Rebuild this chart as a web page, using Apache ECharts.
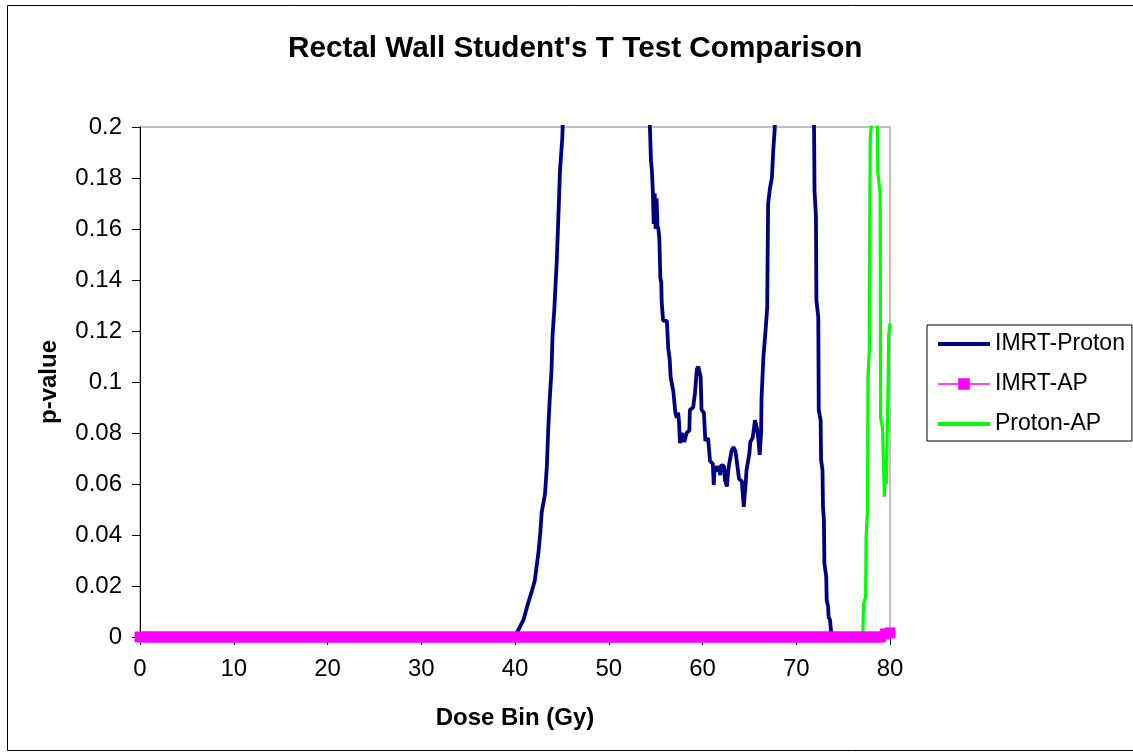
<!DOCTYPE html>
<html>
<head>
<meta charset="utf-8">
<title>Rectal Wall Student's T Test Comparison</title>
<script src="https://cdn.jsdelivr.net/npm/echarts@6/dist/echarts.min.js"></script>
<style>
  html, body { margin: 0; padding: 0; background: #ffffff; }
  #chart { width: 1133px; height: 755px; }
</style>
</head>
<body>
<div id="chart"></div>
<script>
// p-values of the per-dose-bin Student's t tests (rectal wall DVH)
// null marks stretches where the p-value lies far above the plotted range

const seriesNames = ['IMRT-Proton', 'IMRT-AP', 'Proton-AP'];

const imrtProtonDose = [
  0, 40.0, 40.35, 40.9, 41.4, 41.8, 42.1, 42.5, 42.7, 42.85, 43.2, 43.4, 43.55, 43.7, 43.9,
  44.0, 44.2, 44.45, 44.6, 44.8, 45.05, 45.2, 49.7,
  54.2, 54.4, 54.5, 54.6, 54.7, 54.8, 54.9, 55.0, 55.1, 55.2, 55.3, 55.4, 55.5, 55.6, 55.65,
  55.8, 56.2, 56.35, 56.5, 56.6, 56.9, 57.1, 57.25, 57.4, 57.5, 57.6, 57.8, 58.05, 58.3,
  58.6, 58.65, 59.0, 59.2, 59.4, 59.55, 59.8, 59.9, 60.15, 60.3, 60.6, 60.8, 61.1, 61.2,
  61.3, 61.5, 61.7, 61.9, 62.0, 62.3, 62.4, 62.6, 62.75, 62.9, 63.1, 63.3, 63.5, 63.6,
  63.9, 64.2, 64.3, 64.4, 64.6, 64.7, 65.0, 65.1, 65.35, 65.6, 65.8, 65.95, 66.1, 66.25,
  66.3, 66.5, 66.7, 66.9, 66.95, 67.0, 67.2, 67.4, 67.55, 67.7, 67.8, 69.8,
  71.85, 71.9, 71.95, 72.1, 72.15, 72.35, 72.4, 72.6, 72.65, 72.8, 72.85, 72.95, 73.0,
  73.2, 73.25, 73.4, 73.45, 73.6, 73.7, 73.8, 80
];
const imrtProtonP = [
  0, 0, 0.0027, 0.0067, 0.0133, 0.018, 0.022, 0.033, 0.041, 0.049, 0.056, 0.067, 0.082, 0.093, 0.105,
  0.118, 0.129, 0.147, 0.162, 0.183, 0.196, 0.215, null,
  0.215, 0.199, 0.187, 0.183, 0.175, 0.162, 0.174, 0.160, 0.172, 0.161, 0.160, 0.156, 0.141, 0.139, 0.131,
  0.124, 0.124, 0.113, 0.109, 0.102, 0.096, 0.088, 0.086, 0.088, 0.084, 0.076, 0.080, 0.0765, 0.080,
  0.081, 0.089, 0.090, 0.0957, 0.105, 0.106, 0.102, 0.089, 0.088, 0.077, 0.078, 0.069, 0.068, 0.0596,
  0.067, 0.065, 0.067, 0.0635, 0.0675, 0.067, 0.0616, 0.059, 0.0655, 0.069, 0.073, 0.0745, 0.073, 0.0706,
  0.062, 0.061, 0.056, 0.051, 0.060, 0.0655, 0.072, 0.0765, 0.078, 0.085, 0.082, 0.078, 0.0714, 0.080,
  0.094, 0.110, 0.119, 0.129, 0.150, 0.170, 0.176, 0.180, 0.191, 0.199, 0.215, null,
  0.215, 0.199, 0.175, 0.165, 0.132, 0.1255, 0.089, 0.085, 0.0694, 0.0655, 0.051, 0.046, 0.029,
  0.0235, 0.0145, 0.0118, 0.0078, 0.0067, 0.0027, 0, 0
];

const imrtApDose = [
  0, 0.5, 1, 1.5, 2, 2.5, 3, 3.5, 4, 4.5, 5, 5.5, 6, 6.5, 7, 7.5, 8, 8.5, 9, 9.5,
  10, 10.5, 11, 11.5, 12, 12.5, 13, 13.5, 14, 14.5, 15, 15.5, 16, 16.5, 17, 17.5, 18, 18.5, 19, 19.5,
  20, 20.5, 21, 21.5, 22, 22.5, 23, 23.5, 24, 24.5, 25, 25.5, 26, 26.5, 27, 27.5, 28, 28.5, 29, 29.5,
  30, 30.5, 31, 31.5, 32, 32.5, 33, 33.5, 34, 34.5, 35, 35.5, 36, 36.5, 37, 37.5, 38, 38.5, 39, 39.5,
  40, 40.5, 41, 41.5, 42, 42.5, 43, 43.5, 44, 44.5, 45, 45.5, 46, 46.5, 47, 47.5, 48, 48.5, 49, 49.5,
  50, 50.5, 51, 51.5, 52, 52.5, 53, 53.5, 54, 54.5, 55, 55.5, 56, 56.5, 57, 57.5, 58, 58.5, 59, 59.5,
  60, 60.5, 61, 61.5, 62, 62.5, 63, 63.5, 64, 64.5, 65, 65.5, 66, 66.5, 67, 67.5, 68, 68.5, 69, 69.5,
  70, 70.5, 71, 71.5, 72, 72.5, 73, 73.5, 74, 74.5, 75, 75.5, 76, 76.5, 77, 77.5, 78, 78.5, 79, 79.5,
  80
];
const imrtApP = [
  0, 0, 0, 0, 0, 0, 0, 0, 0, 0, 0, 0, 0, 0, 0, 0, 0, 0, 0, 0,
  0, 0, 0, 0, 0, 0, 0, 0, 0, 0, 0, 0, 0, 0, 0, 0, 0, 0, 0, 0,
  0, 0, 0, 0, 0, 0, 0, 0, 0, 0, 0, 0, 0, 0, 0, 0, 0, 0, 0, 0,
  0, 0, 0, 0, 0, 0, 0, 0, 0, 0, 0, 0, 0, 0, 0, 0, 0, 0, 0, 0,
  0, 0, 0, 0, 0, 0, 0, 0, 0, 0, 0, 0, 0, 0, 0, 0, 0, 0, 0, 0,
  0, 0, 0, 0, 0, 0, 0, 0, 0, 0, 0, 0, 0, 0, 0, 0, 0, 0, 0, 0,
  0, 0, 0, 0, 0, 0, 0, 0, 0, 0, 0, 0, 0, 0, 0, 0, 0, 0, 0, 0,
  0, 0, 0, 0, 0, 0, 0, 0, 0, 0, 0, 0, 0, 0, 0, 0, 0, 0, 0, 0.0012,
  0.0016
];

const protonApDose = [
  0, 77.1, 77.15, 77.2, 77.4, 77.45, 77.6, 77.65, 77.8, 77.85, 77.9, 78.0, 78.1, 78.35,
  78.6, 78.7, 78.95, 79.0, 79.2, 79.3, 79.4, 79.5, 79.6, 79.7, 79.8, 79.85, 80.0
];
const protonApP = [
  0, 0, 0.0094, 0.0133, 0.0157, 0.039, 0.050, 0.102, 0.113, 0.1725, 0.196, 0.2, 0.215, null,
  0.215, 0.182, 0.174, 0.086, 0.082, 0.069, 0.055, 0.065, 0.060, 0.081, 0.098, 0.118, 0.123
];

const xTicks = [0, 10, 20, 30, 40, 50, 60, 70, 80];
const yTicks = [0, 0.02, 0.04, 0.06, 0.08, 0.1, 0.12, 0.14, 0.16, 0.18, 0.2];

function pairs(dose, p) {
  return dose.map((d, i) => [d, p[i] === null ? '-' : p[i]]);
}

const FONT = '"Liberation Sans", Arial, sans-serif';

const chart = echarts.init(document.getElementById('chart'), null, { renderer: 'canvas' });

chart.setOption({
  backgroundColor: '#ffffff',
  animation: false,
  title: {
    text: "Rectal Wall Student's T Test Comparison",
    left: 283,
    top: 29,
    textStyle: { fontFamily: FONT, fontSize: 29.7, fontWeight: 'bold', color: '#000000' }
  },
  graphic: [{
    type: 'rect',
    shape: { x: 7.5, y: 5.5, width: 1140, height: 745 },
    style: { fill: 'none', stroke: '#000000', lineWidth: 1 },
    silent: true,
    z: -1
  }],
  legend: {
    orient: 'vertical',
    left: 927,
    top: 325,
    padding: [7, 7, 5, 9],
    itemWidth: 52,
    itemHeight: 12,
    itemGap: 16,
    borderColor: '#000000',
    borderWidth: 1,
    backgroundColor: '#ffffff',
    // plain line swatches for the two line-only series
    data: [
      { name: seriesNames[0], itemStyle: { opacity: 0 }, lineStyle: { width: 4 } },
      { name: seriesNames[1], lineStyle: { width: 1.5 } },
      { name: seriesNames[2], itemStyle: { opacity: 0 }, lineStyle: { width: 4 } }
    ],
    textStyle: { fontFamily: FONT, fontSize: 23, color: '#000000', lineHeight: 24 }
  },
  grid: {
    left: 140,
    top: 127,
    right: 243,
    bottom: 118,
    show: true,
    borderColor: '#808080',
    borderWidth: 1,
    backgroundColor: '#ffffff'
  },
  xAxis: {
    type: 'value',
    min: xTicks[0],
    max: xTicks[xTicks.length - 1],
    interval: 10,
    name: 'Dose Bin (Gy)',
    nameLocation: 'middle',
    nameGap: 69,
    nameTextStyle: { fontFamily: FONT, fontSize: 24, fontWeight: 'bold', color: '#000000' },
    axisLine: { show: true, onZero: false, lineStyle: { color: '#000000', width: 1 } },
    axisTick: { show: true, length: 8, inside: false, lineStyle: { color: '#000000' } },
    axisLabel: { margin: 20, fontFamily: FONT, fontSize: 24, color: '#000000' },
    splitLine: { show: false }
  },
  yAxis: {
    type: 'value',
    min: yTicks[0],
    max: yTicks[yTicks.length - 1],
    interval: 0.02,
    name: 'p-value',
    nameLocation: 'middle',
    nameGap: 79,
    nameTextStyle: { fontFamily: FONT, fontSize: 24, fontWeight: 'bold', color: '#000000' },
    axisLine: { show: true, lineStyle: { color: '#000000', width: 1 } },
    axisTick: { show: true, length: 8, inside: false, lineStyle: { color: '#000000' } },
    axisLabel: { margin: 18, fontFamily: FONT, fontSize: 24, color: '#000000' },
    splitLine: { show: false }
  },
  series: [
    {
      name: seriesNames[0],
      type: 'line',
      data: pairs(imrtProtonDose, imrtProtonP),
      symbol: 'none',
      clip: true,
      connectNulls: false,
      z: 2,
      lineStyle: { color: '#000080', width: 3.8 },
      itemStyle: { color: '#000080' }
    },
    {
      name: seriesNames[1],
      type: 'line',
      data: pairs(imrtApDose, imrtApP),
      symbol: 'rect',
      symbolSize: 10,
      showAllSymbol: true,
      clip: false,
      z: 4,
      lineStyle: { color: '#ff00ff', width: 1.5 },
      itemStyle: { color: '#ff00ff', borderColor: '#ff00ff', borderWidth: 1 }
    },
    {
      name: seriesNames[2],
      type: 'line',
      data: pairs(protonApDose, protonApP),
      symbol: 'none',
      clip: true,
      connectNulls: false,
      z: 3,
      lineStyle: { color: '#00ff00', width: 3.2 },
      itemStyle: { color: '#00ff00' }
    }
  ]
});
</script>
</body>
</html>
